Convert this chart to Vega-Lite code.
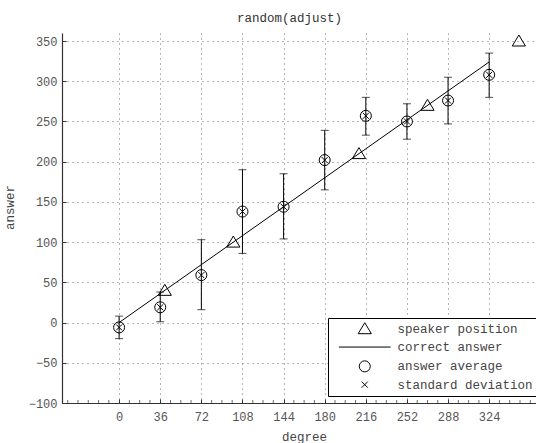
{
  "$schema": "https://vega.github.io/schema/vega-lite/v6.json",
  "width": 474,
  "height": 370,
  "autosize": "none",
  "padding": {"left": 62, "top": 33, "right": 0, "bottom": 40},
  "background": "white",
  "title": {"text": "random(adjust)", "font": "Liberation Mono", "fontSize": 12.5, "fontWeight": "normal", "color": "#333", "offset": 8, "dx": -9.5},
  "config": {
    "view": {"stroke": null},
    "axis": {
      "labelFont": "Liberation Mono", "labelFontSize": 12, "labelColor": "#555",
      "titleFont": "Liberation Mono", "titleFontSize": 12.5, "titleFontWeight": "normal", "titleColor": "#444",
      "domainColor": "#333", "domainWidth": 1.2, "tickColor": "#333",
      "gridColor": "#555", "gridDash": [1, 4], "gridWidth": 1, "gridOpacity": 0.85
    }
  },
  "datasets": {
    "line": [{"x": 0, "y": 0}, {"x": 324, "y": 324}],
    "minor": [
      {"x": -45}, {"x": -36}, {"x": -27}, {"x": -18}, {"x": -9}, {"x": 9}, {"x": 18}, {"x": 27}, {"x": 45}, {"x": 54}, {"x": 63},
      {"x": 81}, {"x": 90}, {"x": 99}, {"x": 117}, {"x": 126}, {"x": 135}, {"x": 153}, {"x": 162}, {"x": 171},
      {"x": 189}, {"x": 198}, {"x": 207}, {"x": 225}, {"x": 234}, {"x": 243}, {"x": 261}, {"x": 270}, {"x": 279},
      {"x": 297}, {"x": 306}, {"x": 315}, {"x": 333}, {"x": 342}, {"x": 351}, {"x": 360}
    ],
    "avg": [
      {"x": 0, "avg": -6, "lo": -20, "hi": 8},
      {"x": 36, "avg": 19, "lo": 1, "hi": 38},
      {"x": 72, "avg": 59, "lo": 16, "hi": 103},
      {"x": 108, "avg": 138, "lo": 86, "hi": 190},
      {"x": 144, "avg": 144, "lo": 104, "hi": 185},
      {"x": 180, "avg": 202, "lo": 165, "hi": 239},
      {"x": 216, "avg": 257, "lo": 233, "hi": 280},
      {"x": 252, "avg": 250, "lo": 228, "hi": 272},
      {"x": 288, "avg": 276, "lo": 247, "hi": 305},
      {"x": 324, "avg": 308, "lo": 280, "hi": 335}
    ],
    "pts": [
      {"x": 40, "y": 40, "series": "speaker position"},
      {"x": 100, "y": 100, "series": "speaker position"},
      {"x": 210, "y": 210, "series": "speaker position"},
      {"x": 270, "y": 270, "series": "speaker position"},
      {"x": 350, "y": 350, "series": "speaker position"},
      {"x": 0, "y": -6, "series": "answer average"},
      {"x": 36, "y": 19, "series": "answer average"},
      {"x": 72, "y": 59, "series": "answer average"},
      {"x": 108, "y": 138, "series": "answer average"},
      {"x": 144, "y": 144, "series": "answer average"},
      {"x": 180, "y": 202, "series": "answer average"},
      {"x": 216, "y": 257, "series": "answer average"},
      {"x": 252, "y": 250, "series": "answer average"},
      {"x": 288, "y": 276, "series": "answer average"},
      {"x": 324, "y": 308, "series": "answer average"},
      {"x": 0, "y": -6, "series": "standard deviation"},
      {"x": 36, "y": 19, "series": "standard deviation"},
      {"x": 72, "y": 59, "series": "standard deviation"},
      {"x": 108, "y": 138, "series": "standard deviation"},
      {"x": 144, "y": 144, "series": "standard deviation"},
      {"x": 180, "y": 202, "series": "standard deviation"},
      {"x": 216, "y": 257, "series": "standard deviation"},
      {"x": 252, "y": 250, "series": "standard deviation"},
      {"x": 288, "y": 276, "series": "standard deviation"},
      {"x": 324, "y": 308, "series": "standard deviation"}
    ]
  },
  "layer": [
    {
      "data": {"name": "line"},
      "mark": {"type": "line", "color": "black", "strokeWidth": 1},
      "encoding": {
        "x": {"field": "x", "type": "quantitative", "title": "degree",
          "scale": {"domain": [-50, 365], "nice": false, "zero": false},
          "axis": {
            "title": "degree", "titleX": 242, "titleY": 33, "titleBaseline": "middle",
            "grid": true, "labelOverlap": false,
            "values": [0, 36, 72, 108, 144, 180, 216, 252, 288, 324],
            "labelPadding": 12.5, "tickSize": -4
          }
        },
        "y": {"field": "y", "type": "quantitative", "title": "answer",
          "scale": {"domain": [-100, 360], "nice": false, "zero": false},
          "axis": {
            "title": "answer", "titleX": -53, "titleY": 174, "titleBaseline": "middle", "titleAlign": "center",
            "values": [-100, -50, 0, 50, 100, 150, 200, 250, 300, 350],
            "tickSize": -4, "labelPadding": 9
          }
        }
      }
    },
    {
      "data": {"name": "minor"},
      "mark": {"type": "tick", "orient": "vertical", "size": 3, "thickness": 1, "color": "#333", "yOffset": -1.5},
      "encoding": {
        "x": {"field": "x", "type": "quantitative", "title": "degree"},
        "y": {"datum": -100}
      }
    },
    {
      "data": {"name": "avg"},
      "mark": {"type": "errorbar", "ticks": {"size": 8, "color": "black", "thickness": 1}, "rule": {"color": "black", "strokeWidth": 1}},
      "encoding": {
        "x": {"field": "x", "type": "quantitative", "title": "degree"},
        "y": {"field": "lo", "type": "quantitative", "title": "answer"},
        "y2": {"field": "hi"}
      }
    },
    {
      "data": {"name": "pts"},
      "mark": {"type": "point", "filled": false, "color": "black", "size": 121, "strokeWidth": 1, "opacity": 1},
      "encoding": {
        "x": {"field": "x", "type": "quantitative", "title": "degree"},
        "y": {"field": "y", "type": "quantitative", "title": "answer"},
        "shape": {"field": "series", "type": "nominal",
          "scale": {
            "domain": ["speaker position", "correct answer", "answer average", "standard deviation"],
            "range": ["M0,-1.1L1.2,0.9L-1.2,0.9Z", "M-4.7,0L4.7,0", "circle", "M-0.55,-0.55L0.55,0.55M-0.55,0.55L0.55,-0.55"]
          },
          "legend": {
            "title": null, "orient": "none", "legendX": 266, "legendY": 285,
            "strokeColor": "black", "fillColor": "white", "padding": 4.5, "rowPadding": 4.3,
            "labelFont": "Liberation Mono", "labelFontSize": 12.5, "labelColor": "#444",
            "symbolSize": 121, "symbolStrokeColor": "black", "symbolFillColor": "transparent", "symbolStrokeWidth": 1,
            "symbolOffset": 26, "labelOffset": 26.5
          }
        }
      }
    }
  ]
}
